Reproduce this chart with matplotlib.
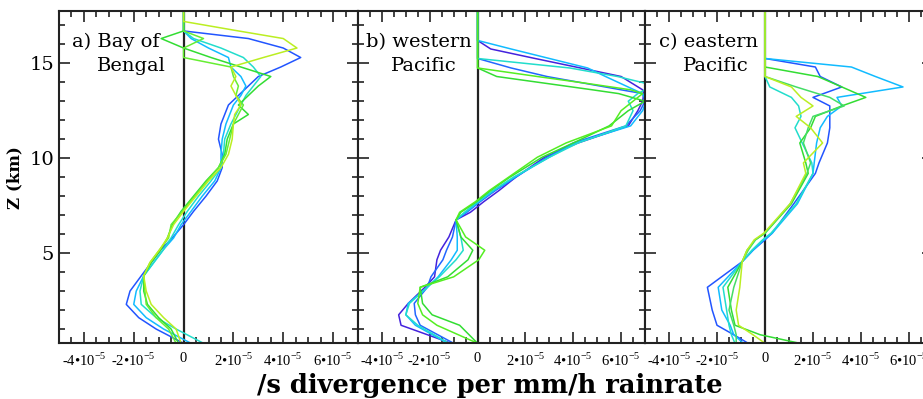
import numpy as np
import matplotlib
matplotlib.use("Agg")
import matplotlib.pyplot as plt
from matplotlib.ticker import MultipleLocator, FuncFormatter

plt.rcParams['mathtext.fontset'] = 'custom'
plt.rcParams['mathtext.rm'] = 'Liberation Serif'

# values in units of 1e-5 /s per mm/h, heights in km

# a) Bay of Bengal
a_z = [0.25, 1.0, 1.6, 2.3, 3.0, 3.8, 4.5, 5.2, 5.8, 6.5, 7.2, 8.0, 8.8, 9.5, 10.2, 11.0,
       11.8, 12.3, 12.8, 13.3, 13.8, 14.3, 14.8, 15.3, 15.8, 16.3, 16.7, 17.2, 17.75]
a_blue = [0.0, -1.1, -1.8, -2.3, -2.15, -1.7, -1.3, -0.9, -0.45, 0.0, 0.4, 0.9, 1.35, 1.55, 1.55, 1.4,
          1.5, 1.65, 1.8, 2.2, 2.6, 3.0, 3.9, 4.7, 4.0, 2.6, 0.0, 0.0, 0.0]
a_lblue = [0.3, -0.8, -1.5, -2.0, -1.9, -1.6, -1.2, -0.8, -0.4, -0.1, 0.3, 0.75, 1.25, 1.5, 1.5, 1.55,
           1.7, 1.85, 2.0, 2.3, 2.5, 2.3, 1.9, 1.8, 1.0, 0.3, 0.0, 0.0, 0.0]
a_turq = [0.8, -0.3, -1.1, -1.7, -1.75, -1.6, -1.2, -0.8, -0.5, -0.2, 0.15, 0.6, 1.1, 1.5, 1.6, 1.65,
          1.9, 2.1, 2.3, 2.5, 2.8, 3.1, 2.8, 2.4, 1.5, 0.4, 0.0, 0.0, 0.0]
a_green = [-0.2, -0.5, -1.0, -1.45, -1.6, -1.6, -1.3, -0.9, -0.65, -0.45, -0.1, 0.4, 0.9, 1.4, 1.65, 1.75,
           2.0, 2.6, 2.2, 2.6, 3.0, 3.5, 2.3, 1.1, 0.0, -0.9, 0.0, 0.0, 0.0]
a_green2 = [-0.3, -0.6, -1.1, -1.5, -1.55, -1.6, -1.35, -0.95, -0.6, -0.5, -0.05, 0.45, 0.95, 1.4, 1.7, 1.85,
            2.0, 2.2, 2.4, 2.1, 2.2, 2.0, 1.9, 0.0, 0.0, 0.8, 0.0, 0.0, 0.0]
a_yellow = [-0.1, -0.3, -0.8, -1.3, -1.5, -1.6, -1.35, -0.95, -0.65, -0.4, 0.0, 0.5, 1.0, 1.5, 1.8, 1.95,
            2.0, 2.05, 2.3, 2.1, 1.9, 2.1, 1.9, 3.2, 4.55, 4.0, 2.2, 0.0, 0.0]

# b) western Pacific
b_z = [0.25, 1.2, 1.75, 2.35, 3.2, 3.75, 4.65, 5.15, 5.85, 6.75, 7.15, 7.7, 8.3, 9.0, 10.05, 10.8,
       11.7, 12.5, 13.0, 13.4, 13.6, 13.95, 14.3, 14.75, 15.25, 15.75, 16.2, 17.75]
b_violet = [-1.1, -3.2, -3.3, -2.9, -2.2, -1.8, -1.7, -1.55, -1.2, -0.9, -0.3, 0.25, 0.9, 1.6, 2.8, 4.2,
            6.3, 6.7, 6.9, 6.95, 6.9, 6.45, 6.0, 4.3, 2.4, 0.55, 0.0, 0.0]
b_blue = [-1.0, -2.4, -2.6, -2.65, -2.1, -1.95, -1.45, -1.3, -1.05, -0.9, -0.45, 0.1, 0.75, 1.6, 2.9, 4.0,
          6.2, 6.8, 7.0, 6.9, 6.0, 4.45, 2.9, 1.4, 0.0, 0.0, 0.0, 0.0]
b_lblue = [-1.25, -2.6, -3.0, -2.9, -2.1, -1.65, -1.1, -0.85, -0.85, -0.9, -0.5, 0.05, 0.7, 1.55, 3.0, 4.1,
           6.4, 6.9, 7.05, 6.9, 6.55, 5.95, 5.35, 4.6, 3.0, 1.4, 0.0, 0.0]
b_turq = [-1.2, -2.5, -3.0, -2.85, -2.1, -1.6, -0.9, -0.6, -0.7, -0.9, -0.55, 0.0, 0.65, 1.5, 3.0, 4.2,
          6.2, 6.5, 6.3, 6.7, 7.0, 7.0, 5.85, 3.85, 0.0, 0.0, 0.0, 0.0]
b_green = [0.0, -0.75, -1.9, -2.3, -2.4, -1.25, -0.4, -0.2, -0.7, -0.9, -0.7, -0.05, 0.55, 1.35, 2.7, 4.0,
           5.5, 6.3, 7.0, 5.9, 4.8, 2.8, 0.8, 0.0, 0.0, 0.0, 0.0, 0.0]
b_green2 = [0.0, -1.7, -2.3, -2.5, -2.4, -1.0, 0.05, 0.3, -0.5, -0.9, -0.75, -0.1, 0.5, 1.3, 2.5, 3.7,
            5.6, 6.0, 6.5, 6.9, 6.4, 4.5, 2.5, 0.0, 0.0, 0.0, 0.0, 0.0]

# c) eastern Pacific
c_z = [0.25, 0.7, 1.2, 2.0, 3.2, 4.55, 5.15, 5.7, 6.05, 7.6, 9.2, 9.75, 10.8, 11.6, 12.2, 12.75,
       13.2, 13.75, 14.3, 14.8, 15.25, 17.75]
c_blue = [-0.7, -1.3, -2.0, -2.2, -2.4, -0.95, -0.5, 0.0, 0.3, 1.2, 2.1, 2.25, 2.6, 2.7, 2.7, 2.7,
          2.0, 3.2, 2.3, 2.1, 0.0, 0.0]
c_lblue = [-0.9, -1.3, -1.45, -1.8, -1.95, -0.95, -0.5, -0.05, 0.3, 1.35, 2.0, 2.05, 2.15, 2.3, 2.6, 3.2,
           3.0, 5.75, 4.6, 3.6, 0.0, 0.0]
c_turq = [-1.25, -1.4, -1.5, -1.6, -1.75, -0.95, -0.55, -0.1, 0.25, 1.3, 2.0, 1.95, 1.55, 1.25, 1.5, 1.4,
          1.1, 0.2, 0.0, 0.0, 0.0, 0.0]
c_green = [1.45, -0.2, -1.25, -1.4, -1.55, -0.95, -0.75, -0.4, 0.0, 1.1, 1.8, 1.7, 1.45, 1.9, 2.1, 3.2,
           4.2, 3.2, 2.2, 0.0, 0.0, 0.0]
c_green2 = [-1.2, -1.2, -1.3, -1.5, -1.3, -0.95, -0.7, -0.4, 0.0, 1.05, 1.75, 1.9, 1.6, 1.8, 2.0, 3.3,
            2.7, 1.3, 0.0, 0.0, 0.0, 0.0]
c_yellow = [0.0, -0.5, -1.1, -1.2, -1.05, -0.95, -0.75, -0.45, -0.05, 1.05, 1.7, 1.6, 2.4, 1.9, 1.3, 2.0,
            1.5, 1.1, 0.0, 0.0, 0.0, 0.0]

panel_titles = [("a) Bay of", "Bengal"), ("b) western", "Pacific"), ("c) eastern", "Pacific")]

fig = plt.figure(figsize=(9.23, 3.99), dpi=100)
W, H = 923.0, 399.0
bottom = (H - 343.3) / H
height = (343.3 - 11) / H
lefts = [59, 358, 645]
widths = [299, 287, 288]

panels = [
    (a_z, [(a_blue, '#2255ff'), (a_lblue, '#11bbff'), (a_turq, '#22ddcc'),
           (a_green, '#33dd33'), (a_green2, '#66ee33'), (a_yellow, '#bbee22')]),
    (b_z, [(b_violet, '#4422dd'), (b_blue, '#2266ff'), (b_lblue, '#11bbff'),
           (b_turq, '#22ddcc'), (b_green, '#33dd33'), (b_green2, '#55ee22')]),
    (c_z, [(c_blue, '#2255ff'), (c_lblue, '#11bbff'), (c_turq, '#22ddcc'),
           (c_green, '#33dd33'), (c_green2, '#44dd66'), (c_yellow, '#bbee22')]),
]
text_x = [(-2.7, -2.1), (-2.45, -2.24), (-2.37, -2.04)]


def xfmt(x, pos):
    k = int(round(x / 1e-5))
    if k == 0:
        return "0"
    return "%d\u202210$^{-5}$" % k


for i, (z, lines) in enumerate(panels):
    ax = fig.add_axes([lefts[i] / W, bottom, widths[i] / W, height])
    ax.axvline(0, color='#222222', lw=1.6, zorder=1)
    for vals, col in lines:
        ax.plot(np.array(vals) * 1e-5, z, color=col, lw=1.1, zorder=2)
    ax.set_xlim(-5e-5, 7e-5)
    ax.set_ylim(0.25, 17.75)
    ax.xaxis.set_major_locator(MultipleLocator(2e-5))
    ax.xaxis.set_minor_locator(MultipleLocator(0.5e-5))
    ax.xaxis.set_major_formatter(FuncFormatter(xfmt))
    ax.yaxis.set_major_locator(MultipleLocator(5))
    ax.yaxis.set_minor_locator(MultipleLocator(1))
    ax.tick_params(which='both', direction='in', top=True, right=True, width=1.2, color='#222222')
    ax.tick_params(which='major', length=8)
    ax.tick_params(which='minor', length=4)
    ax.tick_params(axis='x', labelsize=10.5, pad=6)
    for lab in ax.get_xticklabels():
        lab.set_family('Liberation Serif')
    for sp in ax.spines.values():
        sp.set_linewidth(1.5)
        sp.set_color('#222222')
    if i == 0:
        ax.tick_params(axis='y', labelsize=14)
        for lab in ax.get_yticklabels():
            lab.set_family('DejaVu Serif')
        ax.set_ylabel("Z (km)", family='DejaVu Serif', fontweight='bold', fontsize=12, labelpad=4)
    else:
        ax.tick_params(axis='y', labelleft=False)
    t1, t2 = panel_titles[i]
    ax.text(text_x[i][0] * 1e-5, 15.85, t1, ha='center', va='baseline', family='DejaVu Serif', fontsize=14)
    ax.text(text_x[i][1] * 1e-5, 14.6, t2, ha='center', va='baseline', family='DejaVu Serif', fontsize=14)

fig.text(490 / W, 1 - 385 / H, "/s divergence per mm/h rainrate", ha='center', va='center',
         family='DejaVu Serif', fontweight='bold', fontsize=18.5)

fig.savefig("out.png", dpi=100)
